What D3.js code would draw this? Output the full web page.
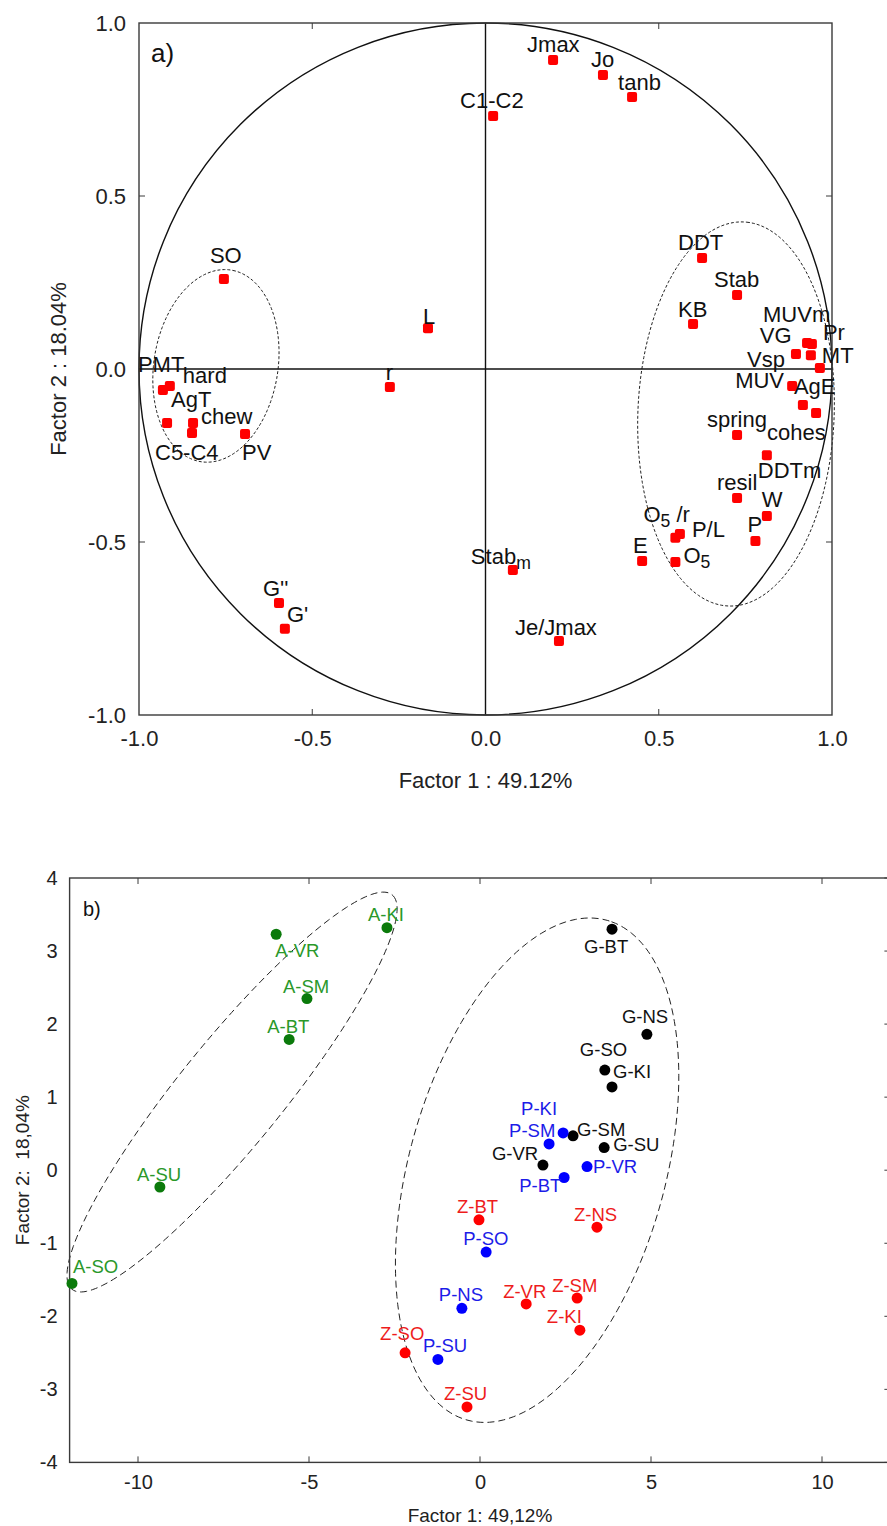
<!DOCTYPE html>
<html><head><meta charset="utf-8">
<script src="https://cdn.jsdelivr.net/npm/d3@7"></script>
<style>
html,body{margin:0;padding:0;background:#fff;}
svg text{font-family:"Liberation Sans",Arial,sans-serif;}
</style></head>
<body><svg id="c" width="887" height="1526"></svg>
<script>
// ---------- DATA: panel a) factor loadings ----------
const loadLabels = ["Jmax","Jo","tanb","C1-C2","SO","L","r","PMT","hard","AgT","chew","C5-C4","PV","G''","G'","Stab_m","Je/Jmax","E","O_5","O_5 /r","P/L","P","W","resil","DDTm","spring","cohes","AgE","MUV","MT","Vsp","VG","MUVm","Pr","KB","Stab","DDT"];
const loadF1 = [0.195,0.339,0.423,0.022,-0.755,-0.166,-0.276,-0.931,-0.911,-0.919,-0.844,-0.847,-0.694,-0.596,-0.579,0.079,0.212,0.452,0.548,0.548,0.561,0.779,0.812,0.726,0.812,0.726,0.954,0.916,0.885,0.965,0.896,0.939,0.928,0.942,0.599,0.726,0.625];
const loadF2 = [0.893,0.850,0.786,0.731,0.260,0.118,-0.052,-0.061,-0.049,-0.156,-0.156,-0.185,-0.188,-0.676,-0.751,-0.581,-0.786,-0.555,-0.558,-0.488,-0.477,-0.497,-0.425,-0.373,-0.249,-0.191,-0.127,-0.104,-0.049,0.003,0.043,0.040,0.075,0.072,0.130,0.214,0.321];
const ticksA = [-1.0,-0.5,0.0,0.5,1.0];

// ---------- DATA: panel b) factor scores ----------
const sampleLabels = ["A-KI","A-VR","A-SM","A-BT","A-SU","A-SO","G-BT","G-NS","G-SO","G-KI","G-SM","G-SU","G-VR","P-KI","P-SM","P-VR","P-BT","Z-BT","Z-NS","P-SO","P-NS","Z-VR","Z-SM","Z-KI","Z-SO","P-SU","Z-SU"];
const sampleF1 = [-2.72,-5.96,-5.06,-5.58,-9.36,-11.93,3.86,4.88,3.65,3.86,2.72,3.63,1.84,2.02,2.43,3.13,2.46,-0.03,3.42,0.18,-0.53,1.35,2.84,2.92,-2.19,-1.23,-0.38];
const sampleF2 = [3.32,3.23,2.35,1.79,-0.23,-1.55,3.30,1.86,1.37,1.14,0.47,0.31,0.07,0.36,0.51,0.05,-0.10,-0.68,-0.78,-1.12,-1.89,-1.83,-1.75,-2.19,-2.50,-2.59,-3.24];
const sampleGroup = sampleLabels.map(s => s[0]);
const xTicksB = [-10,-5,0,5,10];
const yTicksB = [4,3,2,1,0,-1,-2,-3,-4];

// ---------- LAYOUT (label offsets, ellipses, styles) ----------
const offA = {"Jmax":[-26,-8],"Jo":[-12,-8],"tanb":[-14,-7],"C1-C2":[-33,-8],"SO":[-14,-16],"L":[-5,-4],"r":[-4,-7],
 "PMT":[-25,-18],"hard":[13,-3],"AgT":[4,-16],"chew":[8,1],"C5-C4":[-37,27],"PV":[-3,26],"G''":[-16,-7],"G'":[2,-7],
 "Stab_m":[-42,-6],"Je/Jmax":[-44,-6],"E":[-9,-8],"O_5":[8,1],"O_5 /r":[-32,-16],"P/L":[12,3],"P":[-8,-9],"W":[-5,-9],
 "resil":[-20,-8],"DDTm":[-9,23],"spring":[-30,-8],"cohes":[-49,27],"AgE":[-9,-11],"MUV":[-57,2],"MT":[2,-5],
 "Vsp":[-49,13],"VG":[-51,-12],"MUVm":[-44,-21],"Pr":[11,-4],"KB":[-15,-7],"Stab":[-23,-8],"DDT":[-24,-8]};
const offB = {"A-KI":[-19,-7],"A-VR":[-1,23],"A-SM":[-24,-6],"A-BT":[-22,-6],"A-SU":[-23,-6],"A-SO":[1,-10],
 "G-BT":[-28,24],"G-NS":[-25,-11],"G-SO":[-25,-14],"G-KI":[1,-9],"G-SM":[4,0],"G-SU":[9,3],"G-VR":[-51,-5],
 "P-KI":[-28,-29],"P-SM":[-54,4],"P-VR":[6,6],"P-BT":[-45,14],"Z-BT":[-22,-7],"Z-NS":[-23,-6],"P-SO":[-23,-7],
 "P-NS":[-23,-7],"Z-VR":[-23,-6],"Z-SM":[-25,-6],"Z-KI":[-33,-7],"Z-SO":[-25,-13],"P-SU":[-15,-7],"Z-SU":[-23,-7]};
const pointColor = {A:"#0b7a0b",G:"#000000",P:"#0000ff",Z:"#ff0000"};
const labelColor = {A:"#2a982a",G:"#111111",P:"#1c1ce8",Z:"#ee1c1c"};
const ellA = [{c:[-0.778,0.009],u:[0.043,0.277],v:[0.177,-0.027]},{c:[0.723,-0.130],u:[0.0216,0.555],v:[0.283,-0.011]}];
const ellB = [{c:[-7.25,1.07],u:[4.68,2.70],v:[1.18,-0.448]},{c:[1.67,0.0],u:[2.05,3.42],v:[3.60,-0.473]}];

const svg = d3.select("#c");
const frameCol = "#3a3a3a";
const hy = s => String(s).replace("\u2212","-");

function ellipsePath(xs, ys, e){
  const pts = d3.range(0, 360, 2).map(a => {
    const t = a*Math.PI/180;
    return [xs(e.c[0]+e.u[0]*Math.cos(t)+e.v[0]*Math.sin(t)), ys(e.c[1]+e.u[1]*Math.cos(t)+e.v[1]*Math.sin(t))];
  });
  return d3.line().curve(d3.curveCardinalClosed)(pts);
}
function addLabel(g, txt, x, y, size, color){
  const t = g.append("text").attr("x",x).attr("y",y).attr("font-size",size).attr("fill",color);
  const parts = txt.split(/_(\w)/);
  if(parts.length===1){ t.text(txt); return; }
  t.append("tspan").text(parts[0]);
  t.append("tspan").attr("font-size",size*0.8).attr("dy",5).text(parts[1]);
  if(parts[2]) t.append("tspan").attr("dy",-5).text(parts[2]);
}

// ================= PANEL A =================
(function(){
  const L=139,R=832,T=23,B=715;
  const x = d3.scaleLinear().domain([-1,1]).range([L,R]);
  const y = d3.scaleLinear().domain([-1,1]).range([B,T]);
  const g = svg.append("g");
  g.append("ellipse").attr("cx",x(0)).attr("cy",y(0)).attr("rx",x(1)-x(0)).attr("ry",y(0)-y(1))
    .attr("fill","none").attr("stroke","#111").attr("stroke-width",1.4);
  ellA.forEach(e => g.append("path").attr("d",ellipsePath(x,y,e)).attr("fill","none")
    .attr("stroke","#222").attr("stroke-width",1).attr("stroke-dasharray","3,2"));
  g.append("line").attr("x1",x(0)).attr("x2",x(0)).attr("y1",T).attr("y2",B).attr("stroke","#111").attr("stroke-width",1.4);
  g.append("line").attr("x1",L).attr("x2",R).attr("y1",y(0)).attr("y2",y(0)).attr("stroke","#111").attr("stroke-width",1.4);
  g.append("rect").attr("x",L).attr("y",T).attr("width",R-L).attr("height",B-T).attr("fill","none").attr("stroke",frameCol).attr("stroke-width",1.4);
  const fmt = d => hy(d3.format(".1f")(d));
  const ax = g.append("g").attr("transform",`translate(0,${B})`).call(d3.axisBottom(x).tickValues(ticksA).tickFormat(fmt).tickSize(0).tickPadding(17));
  const ay = g.append("g").attr("transform",`translate(${L},0)`).call(d3.axisLeft(y).tickValues(ticksA).tickFormat(fmt).tickSize(0).tickPadding(13));
  [ax,ay].forEach(a=>{a.select(".domain").remove(); a.selectAll("text").attr("font-size",22).attr("fill","#222").attr("font-family","Liberation Sans, Arial");});
  ax.selectAll("text").attr("dy","0.71em").attr("y",15);
  [-0.5,0.5].forEach(v=>{
    g.append("line").attr("x1",x(v)).attr("x2",x(v)).attr("y1",B).attr("y2",B-6).attr("stroke",frameCol);
    g.append("line").attr("x1",x(v)).attr("x2",x(v)).attr("y1",T).attr("y2",T+6).attr("stroke",frameCol);
    g.append("line").attr("x1",L).attr("x2",L+6).attr("y1",y(v)).attr("y2",y(v)).attr("stroke",frameCol);
    g.append("line").attr("x1",R).attr("x2",R-6).attr("y1",y(v)).attr("y2",y(v)).attr("stroke",frameCol);
  });
  g.append("text").attr("x",x(0)).attr("y",788).attr("text-anchor","middle").attr("font-size",22).attr("fill","#222").text("Factor 1 : 49.12%");
  g.append("text").attr("transform",`translate(66,${y(0)}) rotate(-90)`).attr("text-anchor","middle").attr("font-size",22).attr("fill","#222").text("Factor 2 : 18.04%");
  g.append("text").attr("x",151).attr("y",62).attr("font-size",26).attr("fill","#111").attr("font-family","Open Sans, sans-serif").text("a)");
  const idx = d3.range(loadLabels.length);
  g.selectAll("rect.pt").data(idx).join("rect").attr("class","pt")
    .attr("x",i=>x(loadF1[i])-5).attr("y",i=>y(loadF2[i])-5).attr("width",10).attr("height",10).attr("rx",2)
    .attr("fill","#ff0000");
  const lg = g.append("g");
  idx.forEach(i=>{
    const o = offA[loadLabels[i]] || [0,-8];
    addLabel(lg, loadLabels[i], x(loadF1[i])+o[0], y(loadF2[i])+o[1], 22, "#111");
  });
})();

// ================= PANEL B =================
(function(){
  const L=69.6,R=890.4,T=878,B=1462.4;
  const x = d3.scaleLinear().domain([-12,12]).range([L,R]);
  const y = d3.scaleLinear().domain([-4,4]).range([B,T]);
  const g = svg.append("g");
  ellB.forEach(e => g.append("path").attr("d",ellipsePath(x,y,e)).attr("fill","none")
    .attr("stroke","#222").attr("stroke-width",1).attr("stroke-dasharray","7,4"));
  g.append("rect").attr("x",L).attr("y",T).attr("width",R-L).attr("height",B-T).attr("fill","none").attr("stroke",frameCol).attr("stroke-width",1.4);
  const fmt = d => hy(d);
  const ax = g.append("g").attr("transform",`translate(0,${B})`).call(d3.axisBottom(x).tickValues(xTicksB).tickFormat(fmt).tickSize(0).tickPadding(12));
  const ay = g.append("g").attr("transform",`translate(${L},0)`).call(d3.axisLeft(y).tickValues(yTicksB).tickFormat(fmt).tickSize(0).tickPadding(12));
  [ax,ay].forEach(a=>{a.select(".domain").remove(); a.selectAll("text").attr("font-size",20).attr("fill","#222").attr("font-family","Liberation Sans, Arial");});
  xTicksB.forEach(v=>{
    g.append("line").attr("x1",x(v)).attr("x2",x(v)).attr("y1",B).attr("y2",B-6).attr("stroke",frameCol);
    g.append("line").attr("x1",x(v)).attr("x2",x(v)).attr("y1",T).attr("y2",T+6).attr("stroke",frameCol);
  });
  yTicksB.forEach(v=>{
    g.append("line").attr("x1",R).attr("x2",R-6).attr("y1",y(v)).attr("y2",y(v)).attr("stroke",frameCol);
  });
  g.append("text").attr("x",x(0)).attr("y",1522).attr("text-anchor","middle").attr("font-size",19).attr("fill","#222").text("Factor 1: 49,12%");
  g.append("text").attr("transform",`translate(29,${y(0)}) rotate(-90)`).attr("text-anchor","middle").attr("font-size",19).attr("fill","#222").attr("xml:space","preserve").text("Factor 2:  18,04%");
  g.append("text").attr("x",83).attr("y",916).attr("font-size",20).attr("fill","#111").text("b)");
  const idx = d3.range(sampleLabels.length);
  g.selectAll("circle.pt").data(idx).join("circle").attr("class","pt")
    .attr("cx",i=>x(sampleF1[i])).attr("cy",i=>y(sampleF2[i])).attr("r",5.5)
    .attr("fill",i=>pointColor[sampleGroup[i]]);
  const lg = g.append("g");
  idx.forEach(i=>{
    const o = offB[sampleLabels[i]] || [0,-7];
    addLabel(lg, sampleLabels[i], x(sampleF1[i])+o[0], y(sampleF2[i])+o[1], 18.5, labelColor[sampleGroup[i]]);
  });
})();
</script></body></html>
